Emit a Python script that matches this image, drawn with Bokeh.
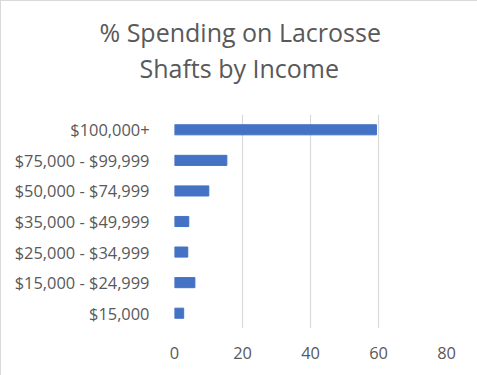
from bokeh.plotting import figure
from bokeh.models import FixedTicker, Range1d, Title
from bokeh.embed import file_html
from bokeh.resources import INLINE

categories = ["$15,000", "$15,000 - $24,999", "$25,000 - $34,999", "$35,000 - $49,999",
              "$50,000 - $74,999", "$75,000 - $99,999", "$100,000+"]
values = [2.7, 6.0, 3.9, 4.2, 10.1, 15.4, 59.4]
x_ticks = [0, 20, 40, 60, 80]
title_lines = ["% Spending on Lacrosse", "Shafts by Income"]

FONT = "Open Sans"
GREY = "#595959"

p = figure(y_range=categories, x_range=Range1d(0, 80),
           frame_width=272, frame_height=214,
           min_border_left=173, min_border_right=32, min_border_top=113, min_border_bottom=48,
           output_backend="svg", toolbar_location=None)
p.styles = {"border": "1px solid #d9d9d9", "box-sizing": "border-box"}

p.hbar(y=categories, right=values, left=0, height=0.33, color="#4472C4")

p.outline_line_color = None
p.ygrid.grid_line_color = None
p.xgrid.grid_line_color = "#d9d9d9"
p.xgrid.grid_line_width = 1.2
p.xaxis.ticker = FixedTicker(ticks=x_ticks)

for ax in (p.xaxis[0], p.yaxis[0]):
    ax.axis_line_color = None
    ax.major_tick_line_color = None
    ax.minor_tick_line_color = None
    ax.major_label_text_font = FONT
    ax.major_label_text_font_size = "16.4px"
    ax.major_label_text_color = GREY
p.xaxis.major_label_standoff = 12
p.yaxis.major_label_standoff = 19

# blank spacer between the frame and the title lines
p.add_layout(Title(text=" ", standoff=14, text_font=FONT, text_font_size="10px",
                   text_color="white"), "above")

# title lines (first added sits closest to the frame), offset so the pair is centred on the chart
for txt, off in zip(reversed(title_lines), [-35, -75]):
    p.add_layout(Title(text=txt, align="left", offset=off, standoff=0,
                       text_font=FONT, text_font_size="25px", text_font_style="normal",
                       text_color=GREY), "above")

open("out.html", "w").write(file_html(p, INLINE))
